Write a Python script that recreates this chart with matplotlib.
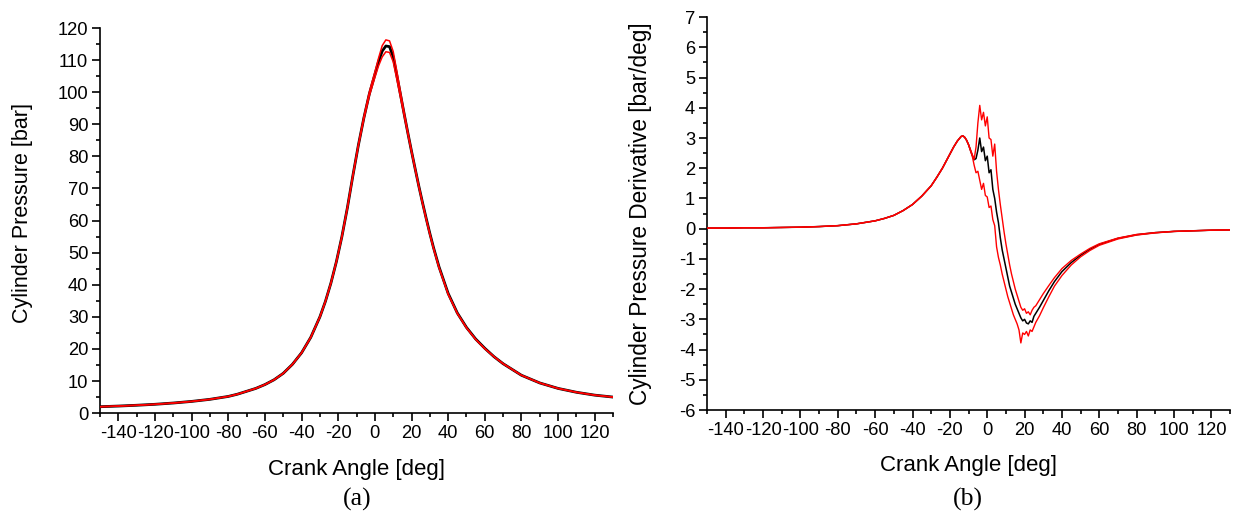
import numpy as np
import matplotlib
matplotlib.use("Agg")
import matplotlib.pyplot as plt
from matplotlib.ticker import MultipleLocator

plt.rcParams["font.family"] = ["Liberation Sans", "DejaVu Sans"]
plt.rcParams["axes.unicode_minus"] = False

# (a) cylinder pressure [bar] vs crank angle [deg]
ang_p = [-150, -140, -130, -120, -110, -100, -90, -80, -75, -70, -65, -60, -55, -50,
         -45, -40, -35, -30, -27, -24, -21, -18, -15, -12, -9, -6, -3, 0, 2, 4, 6, 8,
         10, 12, 14, 16, 18, 20, 22, 24, 26, 28, 30, 32, 35, 40, 45, 50, 55, 60, 65,
         70, 80, 90, 100, 110, 120, 130]
p_mean = [2.0, 2.2, 2.45, 2.75, 3.15, 3.65, 4.3, 5.2, 5.9, 6.8, 7.7, 8.9, 10.4, 12.4,
          15.2, 18.8, 23.6, 30.0, 34.8, 40.5, 47.2, 55.0, 64.0, 74.0, 83.5, 92.0, 99.5,
          105.5, 109.5, 112.8, 114.4, 114.2, 111.0, 105.2, 99.2, 93.2, 87.3, 81.6, 76.1,
          70.7, 65.6, 60.7, 56.0, 51.6, 45.6, 37.3, 31.2, 26.7, 23.1, 20.2, 17.6, 15.4,
          11.8, 9.4, 7.7, 6.5, 5.6, 5.0]
p_upper = [2.0, 2.2, 2.45, 2.75, 3.15, 3.65, 4.3, 5.2, 5.9, 6.8, 7.7, 8.9, 10.4, 12.4,
           15.2, 18.8, 23.6, 30.0, 34.8, 40.5, 47.2, 55.0, 64.0, 74.0, 83.7, 92.4, 100.1,
           106.3, 110.6, 114.5, 116.3, 116.0, 112.7, 106.5, 100.0, 93.7, 87.6, 81.8, 76.2,
           70.7, 65.5, 60.5, 55.8, 51.4, 45.4, 37.1, 31.1, 26.6, 23.0, 20.1, 17.6, 15.4,
           11.8, 9.4, 7.7, 6.5, 5.6, 5.0]
p_lower = [2.0, 2.2, 2.45, 2.75, 3.15, 3.65, 4.3, 5.2, 5.9, 6.8, 7.7, 8.9, 10.4, 12.4,
           15.2, 18.8, 23.6, 30.0, 34.8, 40.5, 47.2, 55.0, 64.0, 74.0, 83.3, 91.6, 98.9,
           104.6, 108.2, 111.0, 112.6, 112.4, 109.5, 104.0, 98.3, 92.6, 86.9, 81.3, 75.9,
           70.5, 65.4, 60.5, 55.8, 51.4, 45.4, 37.1, 31.1, 26.6, 23.0, 20.1, 17.6, 15.4,
           11.8, 9.4, 7.7, 6.5, 5.6, 5.0]

# (b) cylinder pressure derivative [bar/deg]
ang_d = [-150, -140, -130, -120, -110, -100, -90, -80, -70, -60, -55, -50, -45, -40,
         -35, -30, -27, -24, -21, -18, -16, -14, -13, -12, -11, -10, -9, -8, -7, -6,
         -5, -4, -3, -2, -1, 0, 1, 2, 3, 4, 5, 6, 7, 8, 9, 10, 11, 12, 13, 14, 15, 16,
         17, 18, 19, 20, 21, 22, 23, 24, 25, 26, 28, 30, 33, 36, 40, 45, 50, 55, 60,
         70, 80, 90, 100, 110, 120, 130]
d_mean = [0.02, 0.02, 0.03, 0.03, 0.04, 0.05, 0.07, 0.10, 0.16, 0.26, 0.34, 0.44, 0.60,
          0.80, 1.08, 1.42, 1.70, 2.00, 2.35, 2.70, 2.90, 3.05, 3.07, 3.02, 2.92, 2.78,
          2.60, 2.42, 2.28, 2.32, 2.60, 3.00, 2.55, 2.70, 2.25, 2.40, 1.85, 1.95, 1.30,
          1.00, 0.55, 0.20, -0.30, -0.70, -1.00, -1.30, -1.60, -1.90, -2.10, -2.30, -2.50,
          -2.65, -2.80, -2.95, -3.05, -3.00, -3.12, -3.15, -3.05, -3.10, -2.90, -2.80,
          -2.60, -2.38, -2.05, -1.75, -1.42, -1.12, -0.88, -0.68, -0.52, -0.32, -0.20,
          -0.13, -0.09, -0.07, -0.05, -0.04]
d_upper = [0.02, 0.02, 0.03, 0.03, 0.04, 0.05, 0.07, 0.10, 0.16, 0.26, 0.34, 0.44, 0.60,
           0.80, 1.08, 1.42, 1.70, 2.00, 2.35, 2.70, 2.90, 3.05, 3.07, 3.02, 2.92, 2.78,
           2.62, 2.45, 2.30, 2.70, 3.50, 4.08, 3.60, 3.85, 3.40, 3.70, 3.00, 2.95, 2.40,
           2.80, 1.90, 1.30, 0.80, 0.35, -0.10, -0.50, -0.85, -1.20, -1.50, -1.75, -2.00,
           -2.20, -2.40, -2.60, -2.70, -2.65, -2.80, -2.75, -2.85, -2.70, -2.60, -2.55,
           -2.35, -2.15, -1.88, -1.62, -1.32, -1.05, -0.84, -0.65, -0.50, -0.31, -0.19,
           -0.13, -0.09, -0.07, -0.05, -0.04]
d_lower = [0.02, 0.02, 0.03, 0.03, 0.04, 0.05, 0.07, 0.10, 0.16, 0.26, 0.34, 0.44, 0.60,
           0.80, 1.08, 1.42, 1.70, 2.00, 2.35, 2.70, 2.90, 3.05, 3.07, 3.02, 2.92, 2.78,
           2.58, 2.40, 2.10, 1.85, 1.90, 1.60, 1.30, 1.50, 1.10, 1.05, 0.70, 0.75, 0.30,
           0.10, -0.60, -0.95, -1.20, -1.50, -1.75, -2.00, -2.25, -2.45, -2.65, -2.85,
           -3.00, -3.15, -3.35, -3.78, -3.45, -3.50, -3.40, -3.55, -3.35, -3.40, -3.25,
           -3.10, -2.88, -2.62, -2.25, -1.90, -1.55, -1.20, -0.93, -0.72, -0.55, -0.34,
           -0.21, -0.14, -0.09, -0.07, -0.05, -0.04]

fig = plt.figure(figsize=(12.35, 5.19), dpi=100)
ax1 = fig.add_axes([0.081, 0.204, 0.4154, 0.742])
ax2 = fig.add_axes([0.5725, 0.21, 0.4235, 0.757])

ax1.plot(ang_p, p_mean, color="black", lw=2.0, zorder=2)
ax1.plot(ang_p, p_upper, color="red", lw=1.1, zorder=3)
ax1.plot(ang_p, p_lower, color="red", lw=1.1, zorder=3)

ax2.plot(ang_d, d_mean, color="black", lw=1.1, zorder=2)
ax2.plot(ang_d, d_upper, color="red", lw=1.0, zorder=3)
ax2.plot(ang_d, d_lower, color="red", lw=1.0, zorder=3)

for ax in (ax1, ax2):
    ax.set_xlim(-150, 130)
    ax.xaxis.set_major_locator(MultipleLocator(20))
    ax.xaxis.set_minor_locator(MultipleLocator(10))
    ax.spines["top"].set_visible(False)
    ax.spines["right"].set_visible(False)
    ax.spines["left"].set_linewidth(1.2)
    ax.spines["bottom"].set_linewidth(1.2)
    ax.tick_params(which="major", direction="out", length=6, width=1.2,
                   labelsize=13.2, pad=2.5)
    ax.tick_params(which="minor", direction="out", length=3, width=1.2)
    ax.set_xlabel("Crank Angle [deg]", fontsize=16, labelpad=12)

ax1.set_ylim(0, 120)
ax1.yaxis.set_major_locator(MultipleLocator(10))
ax1.yaxis.set_minor_locator(MultipleLocator(5))
ax1.set_ylabel("Cylinder Pressure [bar]", fontsize=15.5)
ax1.yaxis.set_label_coords(-0.131, 0.52)

ax2.set_ylim(-6, 7)
ax2.yaxis.set_major_locator(MultipleLocator(1))
ax2.yaxis.set_minor_locator(MultipleLocator(0.5))
ax2.set_ylabel("Cylinder Pressure Derivative [bar/deg]", fontsize=16.3)
ax2.yaxis.set_label_coords(-0.105, 0.5)

fig.text(0.289, 0.038, "(a)", ha="center", va="center", fontsize=18.5,
         family=["Liberation Serif", "DejaVu Serif"])
fig.text(0.784, 0.038, "(b)", ha="center", va="center", fontsize=18.5,
         family=["Liberation Serif", "DejaVu Serif"])

plt.savefig("out.png", dpi=100)
